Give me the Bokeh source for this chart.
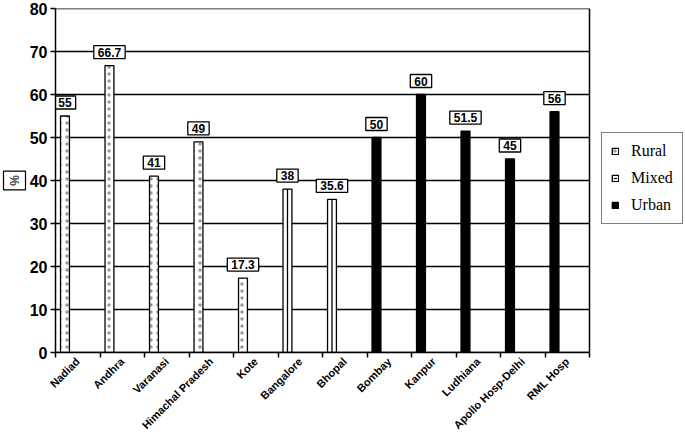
import math
from bokeh.plotting import figure
from bokeh.models import (ColumnDataSource, FixedTicker, Title,
                          Legend, LegendItem)
from bokeh.core.properties import value
from bokeh.embed import file_html
from bokeh.resources import INLINE

categories = ["Nadiad", "Andhra", "Varanasi", "Himachal Pradesh", "Kote",
              "Bangalore", "Bhopal", "Bombay", "Kanpur", "Ludhiana",
              "Apollo Hosp-Delhi", "RML Hosp"]
percent = [55, 66.7, 41, 49, 17.3, 38, 35.6, 50, 60, 51.5, 45, 56]
setting = ["Rural"] * 5 + ["Mixed"] * 2 + ["Urban"] * 5
y_ticks = [0, 10, 20, 30, 40, 50, 60, 70, 80]

BAR_OFFSET = 0.213
BAR_WIDTH = 0.2
FONT = "Liberation Sans"
N = len(categories)

W, H = 685, 438
LEFT = 55
PLOT_W = 534            # pixel width of the category area
X_END = N * (W - LEFT) / PLOT_W   # extra room on the right holds the legend

def subset(kind):
    idx = [i for i, s in enumerate(setting) if s == kind]
    return ColumnDataSource(dict(
        x=[i + BAR_OFFSET for i in idx],
        v=[percent[i] for i in idx],
        zero=[0 for _ in idx],
    ))

p = figure(width=W, height=H, x_range=(0, X_END), y_range=(0, 80),
           output_backend="svg", toolbar_location=None, tools="",
           min_border_left=LEFT, min_border_top=8, min_border_right=0,
           min_border_bottom=0)

p.outline_line_color = None
p.xgrid.grid_line_color = None
p.ygrid.grid_line_color = None

# horizontal grid lines limited to the category area, plus right border
grid_src = ColumnDataSource(dict(y=y_ticks, x0=[0] * len(y_ticks),
                                 x1=[N] * len(y_ticks)))
p.segment(x0="x0", y0="y", x1="x1", y1="y", source=grid_src,
          line_color="black", line_width=1.3)
p.segment(x0=[N], y0=[y_ticks[0]], x1=[N], y1=[y_ticks[-1]],
          line_color="black", line_width=1.5)

# y axis
p.yaxis.ticker = FixedTicker(ticks=y_ticks)
p.yaxis.major_label_text_font = FONT
p.yaxis.major_label_text_font_style = "bold"
p.yaxis.major_label_text_font_size = "16px"
p.yaxis.major_label_text_color = "black"
p.yaxis.major_tick_out = 5
p.yaxis.major_tick_in = 0
p.yaxis.minor_tick_line_color = None
p.yaxis.axis_line_width = 1.5
p.yaxis.major_tick_line_width = 1.5
p.yaxis.major_label_standoff = 3

# x axis
centers = [i + 0.5 for i in range(N)]
p.xaxis.ticker = FixedTicker(ticks=centers, minor_ticks=list(range(N + 1)))
p.xaxis.bounds = (0, N)
p.xaxis.major_label_overrides = {c: name for c, name in zip(centers, categories)}
p.xaxis.major_label_orientation = math.pi / 4
p.xaxis.major_label_text_font = FONT
p.xaxis.major_label_text_font_style = "bold"
p.xaxis.major_label_text_font_size = "11px"
p.xaxis.major_label_text_color = "black"
p.xaxis.major_tick_out = 0
p.xaxis.major_tick_in = 0
p.xaxis.minor_tick_out = 5
p.xaxis.minor_tick_in = 0
p.xaxis.minor_tick_line_width = 1.5
p.xaxis.axis_line_width = 1.5
p.xaxis.major_label_standoff = 2

src_r = subset("Rural")
src_m = subset("Mixed")
src_u = subset("Urban")

r_rural = p.vbar(x="x", top="v", width=BAR_WIDTH, source=src_r,
                 fill_color="white", line_color="black", line_width=1.3,
                 hatch_pattern="dot", hatch_color="#555555", hatch_scale=7,
                 hatch_weight=0.5, hatch_alpha=0.6)
r_mixed = p.vbar(x="x", top="v", width=BAR_WIDTH, source=src_m,
                 fill_color="white", line_color="black", line_width=1.3)
p.segment(x0="x", y0="zero", x1="x", y1="v", source=src_m,
          line_color="black", line_width=1.3)
r_urban = p.vbar(x="x", top="v", width=BAR_WIDTH, source=src_u,
                 fill_color="black", line_color="black", line_width=1.3)

# legend-only middle stroke for Mixed icon (nothing drawn in the plot)
mid_icon = p.scatter(x=[float("nan")], y=[float("nan")], marker="dash",
                     angle=math.pi / 2, size=8,
                     line_color="black", line_width=1.2)

# value labels
lab_src = ColumnDataSource(dict(
    x=[i + BAR_OFFSET for i in range(N)],
    v=percent,
    t=[f"{v:g}" for v in percent],
))
p.text(x="x", y="v", text="t", source=lab_src, y_offset=-7,
       text_align="center", text_baseline="bottom",
       text_font=value(FONT), text_font_style="bold",
       text_font_size="12px", text_color="black",
       border_line_color="black", border_line_width=1.3,
       background_fill_color="white",
       padding=dict(left=4, right=4, top=2, bottom=2))

# y axis title in a box
ytitle = Title(text="%", align="center", text_font=FONT,
               text_font_size="12px", text_font_style="bold",
               border_line_color="black", border_line_width=1.2,
               background_fill_color="white", padding=4,
               offset=0, standoff=2)
p.add_layout(ytitle, "left")

legend = Legend(items=[
    LegendItem(label="Rural", renderers=[r_rural]),
    LegendItem(label="Mixed", renderers=[r_mixed, mid_icon]),
    LegendItem(label="Urban", renderers=[r_urban]),
], location=(546, 128))
legend.label_text_font = "Liberation Serif"
legend.label_text_font_size = "16px"
legend.label_text_color = "black"
legend.border_line_color = "black"
legend.border_line_width = 1.2
legend.glyph_width = 8
legend.glyph_height = 8
legend.label_standoff = 12
legend.spacing = 9
legend.padding = 9
legend.margin = 0
legend.background_fill_color = "white"
p.add_layout(legend)

open("out.html", "w").write(file_html(p, INLINE))
